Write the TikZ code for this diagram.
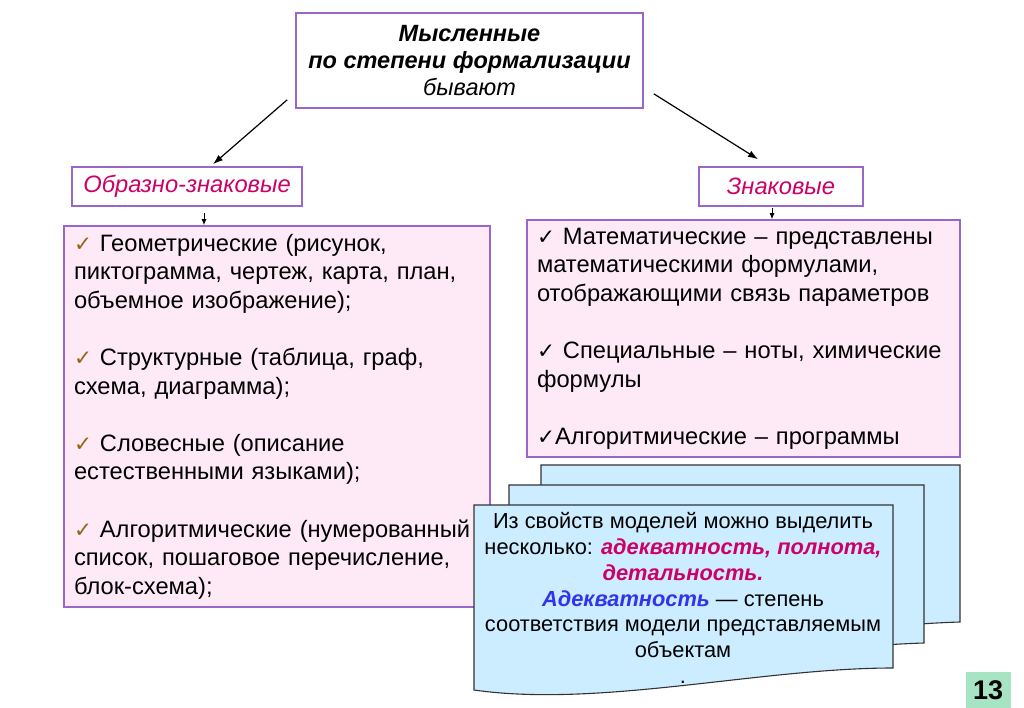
\documentclass[tikz,border=0pt]{standalone}
\usepackage{fontspec}
\setmainfont{Liberation Sans}
\newfontfamily\chkfont{DejaVu Sans}
\usetikzlibrary{arrows.meta, positioning}

\definecolor{frame}{RGB}{153,102,204}
\definecolor{pinkfill}{RGB}{253,234,246}
\definecolor{bluefill}{RGB}{204,236,255}
\definecolor{magtext}{RGB}{204,0,102}
\definecolor{bluetext}{RGB}{51,51,238}
\definecolor{chkbrown}{RGB}{150,100,20}
\definecolor{pagegreen}{RGB}{166,228,196}

\newcommand{\lchk}{{\chkfont\fontsize{21.5}{21.5}\selectfont\color{chkbrown}✓}}
\newcommand{\rchk}{{\chkfont\fontsize{21.5}{21.5}\selectfont ✓}}
\newcommand{\hotword}[1]{{\bfseries\itshape\color{magtext}#1}}

\begin{document}
\begin{tikzpicture}[
  x = 1pt, y = -1pt,
  every node/.style = {font=\fontsize{23.7}{28.6}\selectfont, inner sep=0pt},
  head/.style  = {rectangle, draw=frame, line width=1.6pt, fill=white,
                  align=center},
  tag/.style   = {head, font=\fontsize{23.7}{25}\selectfont\itshape,
                  text=magtext, minimum height=39pt},
  list/.style  = {rectangle, draw=frame, line width=1.6pt, fill=pinkfill,
                  align=left, inner xsep=10pt},
  doc/.style   = {draw=black!80, line width=1.1pt, fill=bluefill},
  arr/.style   = {-{Latex[length=10pt, width=7pt]}, line width=1.2pt},
  sarr/.style  = {-{Latex[length=6pt, width=5pt]}, line width=1pt}
]
\useasboundingbox (0,0) rectangle (1024,708);

% ---- root --------------------------------------------------------------
\node[head, minimum width=347pt, minimum height=95pt,
      font=\fontsize{23.5}{27}\selectfont, at={(469.5,60.5)}] (root)
  {{\bfseries\itshape Мысленные}\\
   {\bfseries\itshape по степени формализации}\\
   {\itshape бывают}};

% ---- two kinds -----------------------------------------------------------
\node[tag, minimum width=230pt, at={(187,186.5)}] (obr) {Образно-знаковые};
\node[tag, minimum width=164pt, at={(781,186.5)}] (zn)  {Знаковые};

\draw[arr] ([xshift=-8pt, yshift=9pt]root.south west)
        -- ([xshift=26pt, yshift=2pt]obr.north);
\draw[arr] ([xshift=10pt, yshift=15pt]root.south east)
        -- ([xshift=-23pt, yshift=7pt]zn.north);

% ---- lists -------------------------------------------------------------
\node[list, text width=406pt, minimum height=381pt, at={(277,416.5)}] (geo)
  {\lchk{} Геометрические (рисунок,\\
   пиктограмма, чертеж, карта, план,\\
   объемное изображение);\\[28.6pt]
   \lchk{} Структурные (таблица, граф,\\
   схема, диаграмма);\\[28.6pt]
   \lchk{} Словесные (описание\\
   естественными языками);\\[28.6pt]
   \lchk{} Алгоритмические (нумерованный\\
   список, пошаговое перечисление,\\
   блок-схема);};

\node[list, text width=413pt, minimum height=237pt, at={(743.5,338.5)}] (sign)
  {\rchk{} Математические – представлены\\
   математическими формулами,\\
   отображающими связь параметров\\[28.6pt]
   \rchk{} Специальные – ноты, химические\\
   формулы\\[28.6pt]
   \rchk{}Алгоритмические – программы};

\draw[sarr] ([xshift=17pt, yshift=-6pt]obr.south)
         -- ([xshift=17pt]obr.south |- geo.north);
\draw[sarr] ([xshift=-9pt, yshift=-1pt]zn.south)
         -- ([xshift=-9pt]zn.south |- sign.north);

% ---- stacked sheets ------------------------------------------------------
\draw[doc] (541,465) -- (960,465) -- (960,622)
  .. controls (827,626) and (667,662) .. (541,645) -- cycle;
\draw[doc] (509,485) -- (924,485) -- (924,643)
  .. controls (791,647) and (635,683) .. (509,665) -- cycle;
\draw[doc] (474,505) -- (893,505) -- (893,668)
  .. controls (760,668) and (600,708) .. (474,690) -- cycle;

\node[align=center, font=\fontsize{21.8}{25.7}\selectfont, at={(683,598)}] (props)
  {Из свойств моделей можно выделить\\
   несколько: \hotword{адекватность, полнота,}\\
   \hotword{детальность.}\\
   {\bfseries\itshape\color{bluetext}Адекватность} — степень\\
   соответствия модели представляемым\\
   объектам\\
   .};

% ---- page number -------------------------------------------------------
\node[fill=pagegreen, minimum width=45pt, minimum height=36pt,
      font=\fontsize{27}{27}\selectfont\bfseries, at={(988,690)}] (page) {13};

\end{tikzpicture}
\end{document}
